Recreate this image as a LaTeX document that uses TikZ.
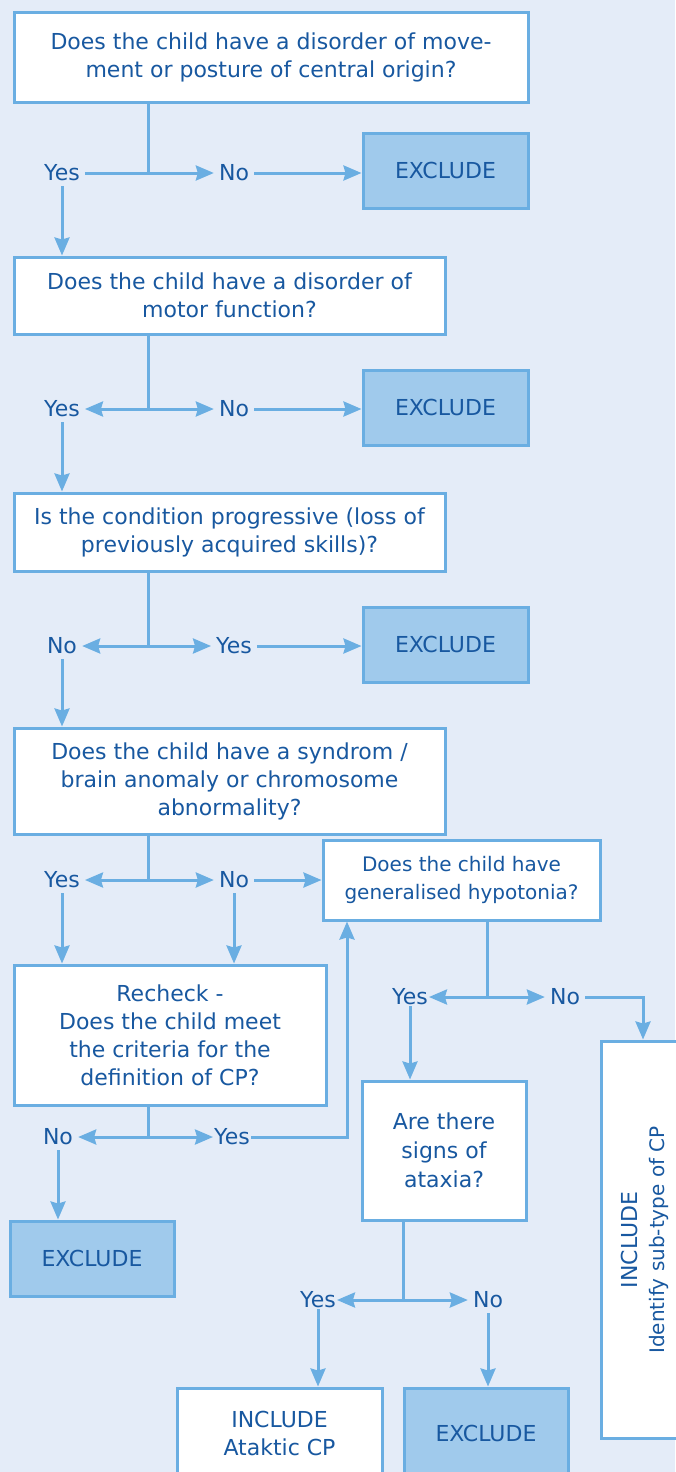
\documentclass[tikz,border=0pt]{standalone}
\usepackage{fontspec}
\setmainfont{DejaVu Sans}
\usetikzlibrary{arrows.meta}
\usetikzlibrary{positioning}

\definecolor{bgc}{RGB}{228,236,248}
\definecolor{linec}{RGB}{106,174,226}
\definecolor{textc}{RGB}{24,88,160}
\definecolor{exfill}{RGB}{160,202,236}

\begin{document}
\begin{tikzpicture}[x=1pt,y=-1pt,
    box/.style={draw=linec, line width=3pt, fill=white, text=textc, align=center,
      inner sep=0pt, font=\fontsize{22}{28}\selectfont},
    exbox/.style={box, fill=exfill},
    lbl/.style={text=textc, inner sep=5pt, font=\fontsize{22}{24}\selectfont},
    conn/.style={draw=linec, line width=3pt},
    arr/.style={conn, -{Stealth[length=18pt,width=15pt,inset=2pt]}}]

  % Background
  \fill[bgc] (0,0) rectangle (675,1472);
  \useasboundingbox (0,0) rectangle (675,1472);

  % Question boxes
  \node[box, minimum width=514, minimum height=89] (q1) at (271,57.5)
    {Does the child have a disorder of move-\\ment or posture of central origin?};
  \node[box, minimum width=431, minimum height=77] (q2) at (229.5,295.5)
    {Does the child have a disorder of\\motor function?};
  \node[box, minimum width=431, minimum height=78] (q3) at (229.5,532)
    {Is the condition progressive (loss of\\previously acquired skills)?};
  \node[box, minimum width=431, minimum height=106] (q4) at (229.5,781)
    {Does the child have a syndrom /\\brain anomaly or chromosome\\abnormality?};
  \node[box, minimum width=277, minimum height=80, font=\fontsize{20}{28}\selectfont] (hypo) at (461.5,880)
    {Does the child have\\generalised hypotonia?};
  \node[box, minimum width=312, minimum height=140] (recheck) at (170,1035)
    {Recheck -\\Does the child meet\\the criteria for the\\definition of CP?};
  \node[box, minimum width=164, minimum height=139, font=\fontsize{22}{29}\selectfont] (ataxia) at (444,1150.5)
    {Are there\\signs of\\ataxia?};

  % Outcome boxes
  \node[exbox, minimum width=165, minimum height=75] (ex1) at (445.5,170.5) {EXCLUDE};
  \node[exbox, minimum width=165, minimum height=75] (ex2) at (445.5,407.5) {EXCLUDE};
  \node[exbox, minimum width=165, minimum height=75] (ex3) at (445.5,644.5) {EXCLUDE};
  \node[exbox, minimum width=164, minimum height=75] (ex4) at (92,1258.5) {EXCLUDE};
  \node[exbox, minimum width=164, minimum height=90] (ex5) at (486,1433) {EXCLUDE};
  \node[box, minimum width=205, minimum height=90] (incat) at (279.5,1433)
    {INCLUDE\\Ataktic CP};
  \node[box, minimum width=86, minimum height=397] (incsub) at (644,1239.5) {};
  \node[text=textc, rotate=90, align=center, inner sep=0pt, font=\fontsize{22}{27}\selectfont] (incsubtxt) at (645,1240)
    {INCLUDE\\{\fontsize{20}{27}\selectfont Identify sub-type of CP}};

  % Answer labels
  \node[lbl] (yes1) at (62,173) {Yes};
  \node[lbl] (no1) at (234,173) {No};
  \node[lbl] (yes2) at (62,409) {Yes};
  \node[lbl] (no2) at (234,409) {No};
  \node[lbl] (no3) at (62,646) {No};
  \node[lbl] (yes3) at (234,646) {Yes};
  \node[lbl] (yes4) at (62,880) {Yes};
  \node[lbl] (no4) at (234,880) {No};
  \node[lbl] (no5) at (58,1137) {No};
  \node[lbl, inner sep=1pt] (yes5) at (232,1137) {Yes};
  \node[lbl, inner sep=1pt] (yes6) at (410,997) {Yes};
  \node[lbl] (no6) at (565,997) {No};
  \node[lbl, inner sep=1pt] (yes7) at (318,1300) {Yes};
  \node[lbl] (no7) at (488,1300) {No};

  % Junctions and bends
  \coordinate (j1) at (148,173);
  \coordinate (j2) at (148,409);
  \coordinate (j3) at (148,646);
  \coordinate (j4) at (148,880);
  \coordinate (j5) at (148,1137);
  \coordinate (j6) at (487,997);
  \coordinate (j7) at (403,1300);
  \coordinate (c5) at (347,1137);
  \coordinate (c6) at (643,997);

  % Question 1
  \draw[conn] (q1.south -| j1) -- (j1);
  \draw[arr] (yes1) -- (no1);
  \draw[arr] (no1) -- (no1 -| ex1.west);
  \draw[arr] (yes1) -- (yes1 |- q2.north);

  % Question 2
  \draw[conn] (q2.south -| j2) -- (j2);
  \draw[arr] (j2) -- (yes2);
  \draw[arr] (j2) -- (no2);
  \draw[arr] (no2) -- (no2 -| ex2.west);
  \draw[arr] (yes2) -- (yes2 |- q3.north);

  % Question 3
  \draw[conn] (q3.south -| j3) -- (j3);
  \draw[arr] (j3) -- (no3);
  \draw[arr] (j3) -- (yes3);
  \draw[arr] (yes3) -- (yes3 -| ex3.west);
  \draw[arr] (no3) -- (no3 |- q4.north);

  % Question 4
  \draw[conn] (q4.south -| j4) -- (j4);
  \draw[arr] (j4) -- (yes4);
  \draw[arr] (j4) -- (no4);
  \draw[arr] (no4) -- (no4 -| hypo.west);
  \draw[arr] (yes4) -- (yes4 |- recheck.north);
  \draw[arr] (no4) -- (no4 |- recheck.north);

  % Recheck
  \draw[conn] (recheck.south -| j5) -- (j5);
  \draw[arr] (j5) -- (no5);
  \draw[arr] (j5) -- (yes5);
  \draw[arr] (yes5) -- (c5) -- (c5 |- hypo.south);
  \draw[arr] (no5) -- (no5 |- ex4.north);

  % Hypotonia
  \draw[conn] (hypo.south -| j6) -- (j6);
  \draw[arr] (j6) -- (yes6);
  \draw[arr] (j6) -- (no6);
  \draw[arr] (no6) -- (c6) -- (c6 |- incsub.north);
  \draw[arr] (yes6) -- (yes6 |- ataxia.north);

  % Ataxia
  \draw[conn] (ataxia.south -| j7) -- (j7);
  \draw[arr] (j7) -- (yes7);
  \draw[arr] (j7) -- (no7);
  \draw[arr] (yes7) -- (yes7 |- incat.north);
  \draw[arr] (no7) -- (no7 |- ex5.north);
\end{tikzpicture}
\end{document}
